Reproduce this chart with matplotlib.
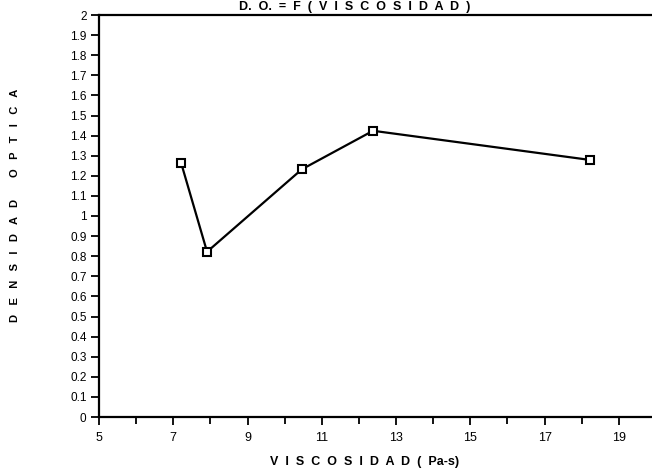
import matplotlib
matplotlib.use("Agg")
import matplotlib.pyplot as plt
from matplotlib.ticker import MultipleLocator

# data
viscosidad = [7.21, 7.91, 10.46, 12.38, 18.22]
densidad = [1.265, 0.822, 1.232, 1.424, 1.279]
x_major = [5, 7, 9, 11, 13, 15, 17, 19]
y_ticks = [i / 10 for i in range(21)]
y_labels = ["0", "0.1", "0.2", "0.3", "0.4", "0.5", "0.6", "0.7", "0.8", "0.9", "1",
            "1.1", "1.2", "1.3", "1.4", "1.5", "1.6", "1.7", "1.8", "1.9", "2"]

plt.rcParams['font.family'] = ['Liberation Sans', 'DejaVu Sans']

fig = plt.figure(figsize=(6.52, 4.74), dpi=100)
ax = fig.add_axes([99 / 652, 57 / 474, 557 / 652, 402 / 474])

ax.plot(viscosidad, densidad, color='black', lw=1.6, marker='s', ms=6,
        mfc='white', mec='black', mew=1.5)

ax.set_xlim(5, 20)
ax.set_ylim(0, 2)
ax.set_xticks(x_major)
ax.set_xticklabels([str(v) for v in x_major], fontsize=9)
ax.xaxis.set_minor_locator(MultipleLocator(1))
ax.set_yticks(y_ticks)
ax.set_yticklabels(y_labels, fontsize=8.5)

ax.tick_params(axis='x', which='major', direction='out', length=6, width=1.3, pad=5)
ax.tick_params(axis='x', which='minor', direction='out', length=5, width=1.3)
ax.tick_params(axis='y', direction='out', length=6, width=1.3, pad=3)
for side in ['left', 'bottom', 'top', 'right']:
    ax.spines[side].set_linewidth(1.6)

fig.text(355 / 652, 1 - 1 / 474, "D.  O.  =  F  (  V  I  S  C  O  S  I  D  A  D  )",
         ha='center', va='top', fontsize=9, fontweight='bold')
fig.text(365 / 652, 1 - 462 / 474, "V  I  S  C  O  S  I  D  A  D  (  Pa-s)",
         ha='center', va='center', fontsize=9, fontweight='bold')
fig.text(15 / 652, 1 - 205 / 474, "D   E   N   S   I   D   A   D       O   P   T   I   C   A",
         ha='center', va='center', rotation=90, fontsize=8, fontweight='bold')

fig.savefig("out.png", dpi=100)
